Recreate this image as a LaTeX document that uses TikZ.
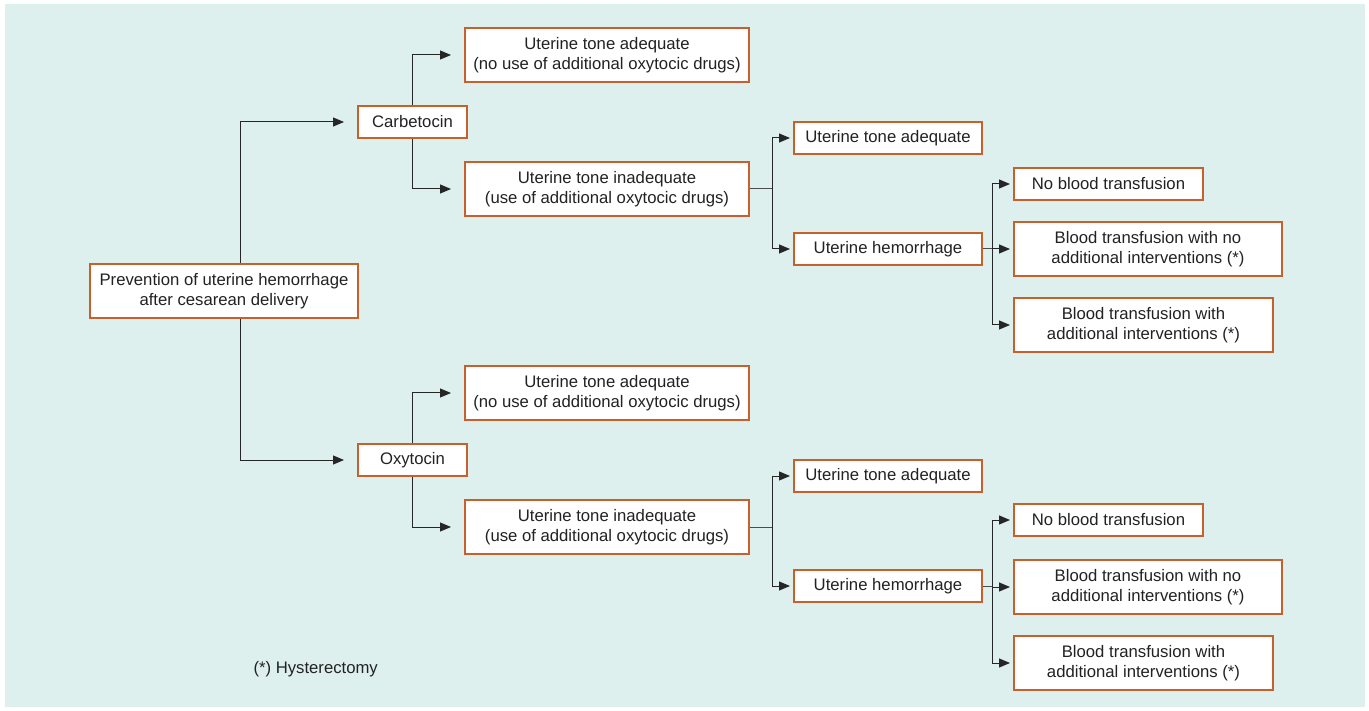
\documentclass[tikz,border=0pt]{standalone}
\usepackage{fontspec}
\setmainfont{Liberation Sans}
\usetikzlibrary{arrows.meta,positioning,calc}
\definecolor{bgcol}{HTML}{DDF0EE}
\definecolor{boxcol}{HTML}{C8602E}
\definecolor{txtcol}{HTML}{222222}

\begin{document}
\begin{tikzpicture}[
  x=1pt, y=-1pt,
  font=\fontsize{16.7}{20}\selectfont, text=txtcol,
  box/.style  = {draw=boxcol, fill=white, line width=2pt, align=center,
                 inner sep=0pt, anchor=west},
  one/.style  = {box, minimum height=32pt},
  two/.style  = {box, minimum height=54pt},
  arr/.style  = {-{Triangle[length=11pt,width=9pt]}, line width=1pt,
                 black!85, shorten >=3pt},
  arrg/.style = {arr, shorten >=13pt},
  lin/.style  = {line width=1pt, black!70}]
\useasboundingbox (0,0) rectangle (1369,711);
\fill[bgcol] (5,4) rectangle (1365,707);

\node[two, minimum width=268pt] (prev) at (89,291)
  {Prevention of uterine hemorrhage\\ after cesarean delivery};

% carbetocin branch
\node[one, minimum width=109pt] (carb) at (357,122) {Carbetocin};
\node[two, minimum width=284pt] (cta) at (464,55)
  {Uterine tone adequate\\ (no use of additional oxytocic drugs)};
\node[two, minimum width=284pt] (cti) at (464,189)
  {Uterine tone inadequate\\ (use of additional oxytocic drugs)};
\node[one, minimum width=188pt] (cta2) at (793,138) {Uterine tone adequate};
\node[one, minimum width=188pt] (cuh) at (793,249) {Uterine hemorrhage};
\node[one, minimum width=189pt] (cnb) at (1013,184) {No blood transfusion};
\node[two, minimum width=268pt] (cbt1) at (1013,249)
  {Blood transfusion with no\\ additional interventions (*)};
\node[two, minimum width=259pt] (cbt2) at (1013,325)
  {Blood transfusion with\\ additional interventions (*)};

% oxytocin branch
\node[one, minimum width=109pt] (oxy) at (357,460) {Oxytocin};
\node[two, minimum width=284pt] (ota) at (464,393)
  {Uterine tone adequate\\ (no use of additional oxytocic drugs)};
\node[two, minimum width=284pt] (oti) at (464,527)
  {Uterine tone inadequate\\ (use of additional oxytocic drugs)};
\node[one, minimum width=188pt] (ota2) at (793,476) {Uterine tone adequate};
\node[one, minimum width=188pt] (ouh) at (793,586) {Uterine hemorrhage};
\node[one, minimum width=189pt] (onb) at (1013,520) {No blood transfusion};
\node[two, minimum width=268pt] (obt1) at (1013,587)
  {Blood transfusion with no\\ additional interventions (*)};
\node[two, minimum width=259pt] (obt2) at (1013,663)
  {Blood transfusion with\\ additional interventions (*)};

\node[anchor=west] (note) at (250,669) {(*) Hysterectomy};

\draw[arrg] ([xshift=16pt]prev.north) |- (carb.west);
\draw[arrg] ([xshift=16pt]prev.south) |- (oxy.west);

\draw[arrg] (carb.north) |- (cta.west);
\draw[arrg] (carb.south) |- (cti.west);
\draw[lin] (cti.east) -- ++(22pt,0) coordinate (cf1);
\draw[arr] (cf1) |- (cta2.west);
\draw[arr] (cf1) |- (cuh.west);
\draw[lin] (cuh.east) -- ++(9pt,0) coordinate (cf2);
\draw[arr] (cf2) |- (cnb.west);
\draw[arr] (cf2) |- (cbt1.west);
\draw[arr] (cf2) |- (cbt2.west);

\draw[arrg] (oxy.north) |- (ota.west);
\draw[arrg] (oxy.south) |- (oti.west);
\draw[lin] (oti.east) -- ++(22pt,0) coordinate (of1);
\draw[arr] (of1) |- (ota2.west);
\draw[arr] (of1) |- (ouh.west);
\draw[lin] (ouh.east) -- ++(9pt,0) coordinate (of2);
\draw[arr] (of2) |- (onb.west);
\draw[arr] (of2) |- (obt1.west);
\draw[arr] (of2) |- (obt2.west);
\end{tikzpicture}
\end{document}
